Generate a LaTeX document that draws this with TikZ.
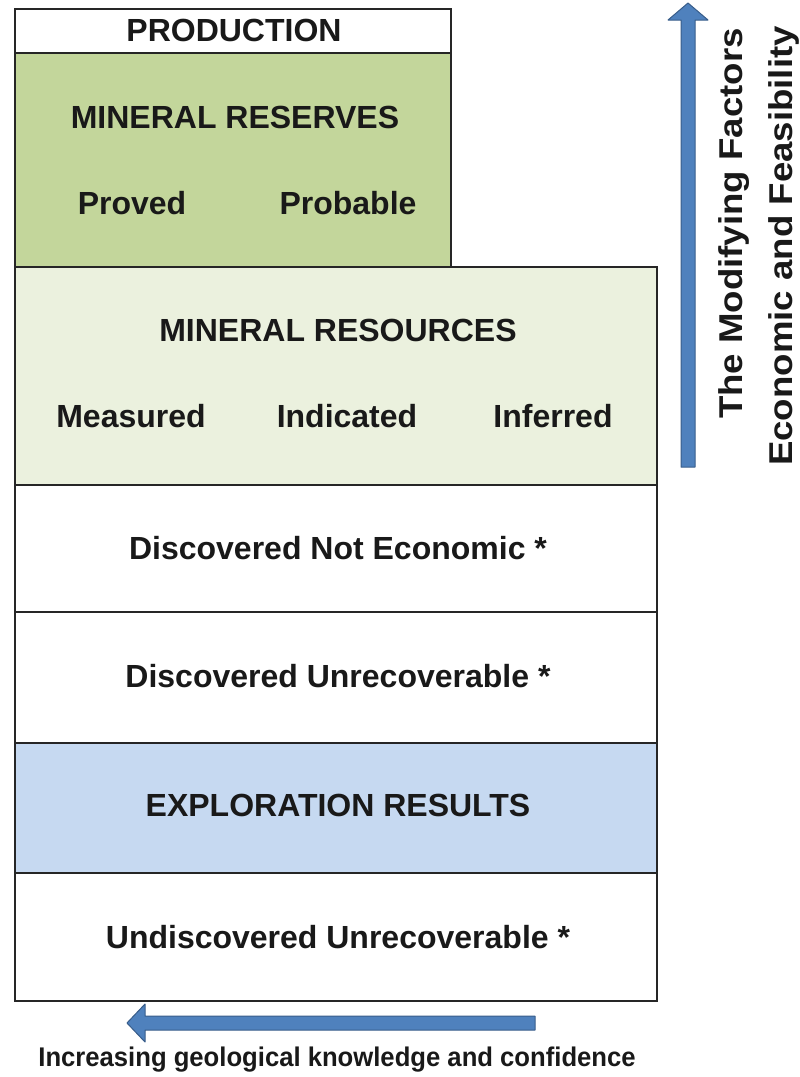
\documentclass[tikz,border=0pt]{standalone}
\usepackage{fontspec}
\setmainfont{Liberation Sans}
\newfontfamily\boxfont{Liberation Sans}
\newfontfamily\sidefont{Liberation Sans}[FakeStretch=1.11]
\newfontfamily\labfont{Liberation Sans}[FakeStretch=0.95]
\definecolor{reservegreen}{HTML}{C3D69B}
\definecolor{resourcegreen}{HTML}{EBF1DE}
\definecolor{explblue}{HTML}{C6D9F1}
\definecolor{arrowfill}{HTML}{4F81BD}
\definecolor{arrowline}{HTML}{385D8A}
\tikzset{
  layer/.style={draw=black!85, line width=1.8pt, inner sep=0pt, anchor=north west},
  boxtext/.style={font=\boxfont\bfseries\fontsize{32}{38}\selectfont, text=black!90, inner sep=0pt},
  sidetext/.style={font=\sidefont\bfseries\fontsize{33}{40}\selectfont, text=black!90, inner sep=0pt, rotate=90},
  bigarrow/.style={fill=arrowfill, draw=arrowline, line width=1pt, line join=round}
}
\begin{document}
\begin{tikzpicture}[x=1pt,y=-1pt]
\useasboundingbox (0,0) rectangle (800,1077);
% layers
\node[layer, fill=white, minimum width=436pt, minimum height=44pt] (prod) at (14,8) {};
\node[layer, fill=reservegreen, minimum width=436pt, minimum height=214pt] (res) at (14,52) {};
\node[layer, fill=resourcegreen, minimum width=642pt, minimum height=218pt] (rsc) at (14,266) {};
\node[layer, fill=white, minimum width=642pt, minimum height=127pt] (dne) at (14,484) {};
\node[layer, fill=white, minimum width=642pt, minimum height=131pt] (dun) at (14,611) {};
\node[layer, fill=explblue, minimum width=642pt, minimum height=130pt] (expl) at (14,742) {};
\node[layer, fill=white, minimum width=642pt, minimum height=128pt] (und) at (14,872) {};
% texts
\node[boxtext] (tprod) at (234,30) {PRODUCTION};
\node[boxtext] (tres) at (235,117) {MINERAL RESERVES};
\node[boxtext] (tprov) at (132,203) {Proved};
\node[boxtext] (tprob) at (348,203) {Probable};
\node[boxtext] (trsc) at (338,330) {MINERAL RESOURCES};
\node[boxtext] (tmea) at (131,416) {Measured};
\node[boxtext] (tind) at (347,416) {Indicated};
\node[boxtext] (tinf) at (553,416) {Inferred};
\node[boxtext] (tdne) at (338,548) {Discovered Not Economic *};
\node[boxtext] (tdun) at (338,676) {Discovered Unrecoverable *};
\node[boxtext] (texpl) at (338,805) {EXPLORATION RESULTS};
\node[boxtext] (tund) at (338,937) {Undiscovered Unrecoverable *};
% vertical arrow
\draw[bigarrow] (681,467) -- (681,20) -- (668,20) -- (688,3) -- (708,20) -- (695,20) -- (695,467) -- cycle;
\node[sidetext, anchor=base east] (tmod) at (742,28) {The Modifying Factors};
\node[sidetext, anchor=base east] (tecon) at (792,26) {Economic and Feasibility};
% horizontal arrow
\draw[bigarrow] (535,1016) -- (145,1016) -- (145,1004) -- (127,1023) -- (145,1042) -- (145,1030) -- (535,1030) -- cycle;
\node[font=\labfont\bfseries\fontsize{27}{32}\selectfont, text=black!90, inner sep=0pt] (tinc) at (337,1060) {Increasing geological knowledge and confidence};
\end{tikzpicture}
\end{document}
